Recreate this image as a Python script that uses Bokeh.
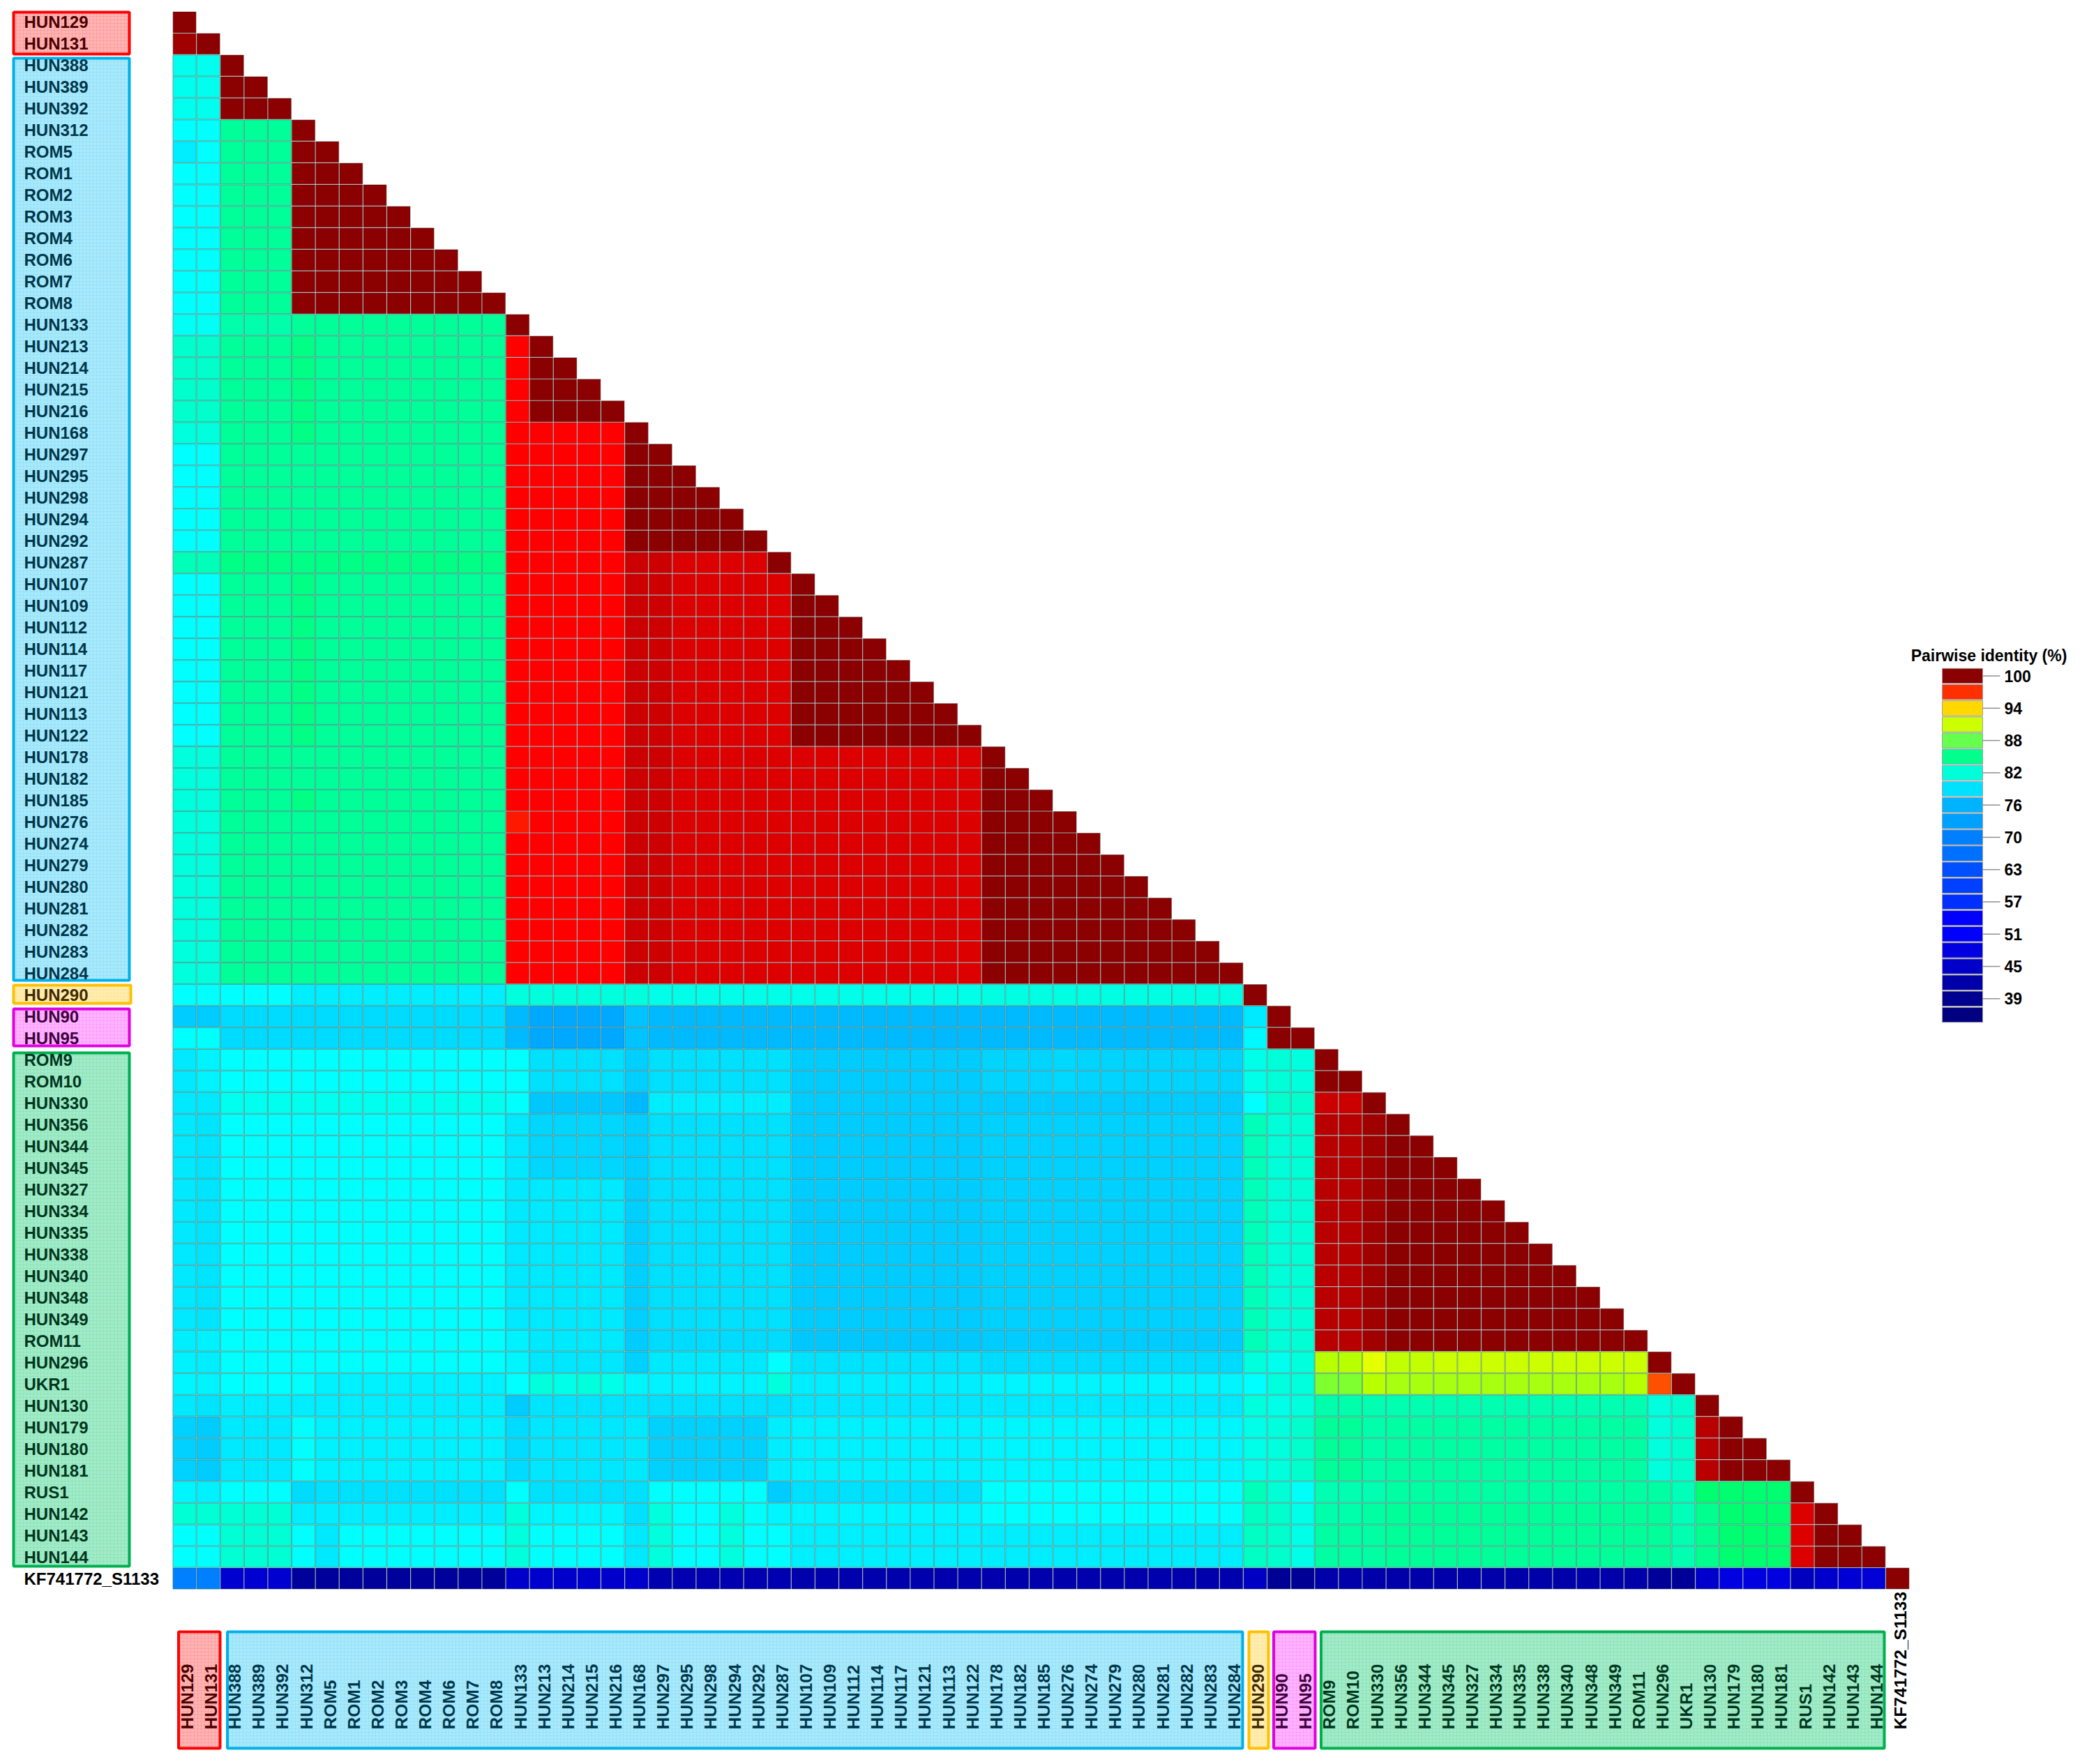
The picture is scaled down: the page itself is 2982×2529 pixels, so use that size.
from math import pi
import numpy as np
from bokeh.core.properties import value
from bokeh.embed import file_html
from bokeh.models import ColumnDataSource, LinearColorMapper, Range1d
from bokeh.plotting import figure
from bokeh.resources import INLINE

LABELS = ["HUN129","HUN131","HUN388","HUN389","HUN392","HUN312","ROM5","ROM1","ROM2","ROM3","ROM4","ROM6","ROM7","ROM8",
          "HUN133","HUN213","HUN214","HUN215","HUN216","HUN168","HUN297","HUN295","HUN298","HUN294","HUN292","HUN287",
          "HUN107","HUN109","HUN112","HUN114","HUN117","HUN121","HUN113","HUN122","HUN178","HUN182","HUN185","HUN276",
          "HUN274","HUN279","HUN280","HUN281","HUN282","HUN283","HUN284","HUN290","HUN90","HUN95","ROM9","ROM10",
          "HUN330","HUN356","HUN344","HUN345","HUN327","HUN334","HUN335","HUN338","HUN340","HUN348","HUN349","ROM11",
          "HUN296","UKR1","HUN130","HUN179","HUN180","HUN181","RUS1","HUN142","HUN143","HUN144","KF741772_S1133"]

# clade of each run of taxa: (name, first, last)
CLADES = [("red", 0, 1), ("blue", 2, 44), ("yellow", 45, 45), ("magenta", 46, 47), ("green", 48, 71)]

# pairwise identity (%), lower triangle, one list per row
r00 = [100]
r01 = [99.7, 100]
r02 = [80.8]*2 + [100]
r03 = [80.8]*2 + [100]*2
r04 = [80.8]*2 + [100]*3
r05 = [80, 80] + [85.5]*3 + [100]
r06 = [79, 80] + [85.5]*3 + [100]*2
r07 = [80, 80] + [85.5]*3 + [100]*3
r08 = [80, 80] + [85.5]*3 + [100]*4
r09 = [80, 80] + [85.5]*3 + [100]*5
r10 = [80, 80] + [85.5]*3 + [100]*6
r11 = [80, 80] + [85.5]*3 + [100]*7
r12 = [80, 80] + [85.5]*3 + [100]*8
r13 = [80, 80] + [85.5]*3 + [100]*9
r14 = [80.5]*2 + [84.5]*3 + [85.5]*9 + [100]
r15 = [82.5]*2 + [85.5]*3 + [86.5] + [85.5]*8 + [98] + [100]
r16 = [82.5]*2 + [85.5]*3 + [86.5] + [85.5]*8 + [98] + [100]*2
r17 = [82.5]*2 + [85.5]*3 + [86.5] + [85.5]*8 + [98] + [100]*3
r18 = [82.5]*2 + [85.5]*3 + [86.5] + [85.5]*8 + [98] + [100]*4
r19 = [81.5]*2 + [85.5]*3 + [86.5] + [85.5]*8 + [98]*5 + [100]
r20 = [80]*2 + [85.5]*12 + [98]*5 + [100]*2
r21 = [80]*2 + [85.5]*12 + [98]*5 + [100]*3
r22 = [80]*2 + [85.5]*12 + [98]*5 + [100]*4
r23 = [80]*2 + [85.5]*12 + [98]*5 + [100]*5
r24 = [80]*2 + [85.5]*12 + [98]*5 + [100]*6
r25 = [83.5]*2 + [86.5]*12 + [98]*5 + [99, 99] + [98.5]*4 + [100]
r26 = [80]*2 + [85.5]*3 + [86.5] + [85.5]*8 + [98]*5 + [99, 99] + [98.5]*5 + [100]
r27 = [80]*2 + [85.5]*3 + [86.5] + [85.5]*8 + [98]*5 + [99, 99] + [98.5]*5 + [100]*2
r28 = [80]*2 + [85.5]*3 + [86.5] + [85.5]*8 + [98]*5 + [99, 99] + [98.5]*5 + [100]*3
r29 = [80]*2 + [85.5]*3 + [86.5] + [85.5]*8 + [98]*5 + [99, 99] + [98.5]*5 + [100]*4
r30 = [80]*2 + [85.5]*3 + [86.5] + [85.5]*8 + [98]*5 + [99, 99] + [98.5]*5 + [100]*5
r31 = [80]*2 + [85.5]*3 + [86.5] + [85.5]*8 + [98]*5 + [99, 99] + [98.5]*5 + [100]*6
r32 = [80]*2 + [85.5]*3 + [86.5] + [85.5]*8 + [98]*5 + [99, 99] + [98.5]*5 + [100]*7
r33 = [80]*2 + [85.5]*3 + [86.5] + [85.5]*8 + [98]*5 + [99, 99] + [98.5]*5 + [100]*8
r34 = [81.5]*2 + [85.5]*12 + [98]*5 + [99, 99] + [98.5]*13 + [100]
r35 = [81.5]*2 + [85.5]*12 + [98]*5 + [99, 99] + [98.5]*13 + [100]*2
r36 = [81.5]*2 + [85.5]*3 + [86.5] + [85.5]*8 + [98]*5 + [99, 99] + [98.5]*13 + [100]*3
r37 = [81.5]*2 + [85.5]*12 + [97.5] + [98]*4 + [99, 99] + [98.5]*13 + [100]*4
r38 = [81.5]*2 + [85.5]*12 + [98]*5 + [99, 99] + [98.5]*13 + [100]*5
r39 = [81.5]*2 + [85.5]*12 + [98]*5 + [99, 99] + [98.5]*13 + [100]*6
r40 = [81.5]*2 + [85.5]*12 + [98]*5 + [99, 99] + [98.5]*13 + [100]*7
r41 = [81.5]*2 + [85.5]*12 + [98]*5 + [99, 99] + [98.5]*13 + [100]*8
r42 = [81.5]*2 + [85.5]*12 + [98]*5 + [99, 99] + [98.5]*13 + [100]*9
r43 = [81.5]*2 + [85.5]*12 + [98]*5 + [99, 99] + [98.5]*13 + [100]*10
r44 = [81.5]*2 + [85.5]*12 + [98]*5 + [99, 99] + [98.5]*13 + [100]*11
r45 = [80]*5 + [79]*9 + [81.5]*6 + [81]*14 + [81.3]*11 + [100]
r46 = [77, 77] + [78]*12 + [76] + [74.5]*4 + [76.5] + [76]*6 + [76]*8 + [76]*11 + [78.8] + [100]
r47 = [80, 80] + [78]*12 + [76] + [74.5]*4 + [76.5] + [76]*6 + [76]*8 + [76]*11 + [79.6] + [100]*2
r48 = [78.7, 79.3] + [80]*13 + [78.2]*4 + [77.2] + [78.2]*6 + [77]*8 + [77.5]*3 + [77.8] + [77.5]*7 + [81, 81.8, 81.5] + [100]
r49 = [78.7, 79.3] + [80]*13 + [78.2]*4 + [77.2] + [78.2]*6 + [77]*8 + [77.5]*3 + [77.8] + [77.5]*7 + [81, 81.8, 81.5] + [100]*2
r50 = [78.7, 78.7] + [80.8]*12 + [80] + [76.8]*4 + [76] + [79]*6 + [77]*8 + [77]*11 + [80, 82.5, 82.5] + [99, 99] + [100]
r51 = [78.7, 78.5] + [80]*12 + [78.7] + [77.6]*4 + [77.2] + [78.2]*6 + [77]*8 + [77.3]*11 + [83.5, 81.8, 82] + [99.4, 99.4, 99.7] + [100]
r52 = [78.7, 78.5] + [80]*12 + [78.7] + [77.6]*4 + [77.2] + [78.2]*6 + [77]*8 + [77.3]*11 + [83.5, 81.8, 82] + [99.4, 99.4, 99.7] + [100]*2
r53 = [78.7, 78.5] + [80]*12 + [78.7] + [77.6]*4 + [77.2] + [78.2]*6 + [77]*8 + [77.3]*11 + [83.5, 81.8, 82] + [99.4, 99.4, 99.7] + [100]*3
r54 = [78.7, 78.5] + [80]*12 + [78.7] + [78.8]*4 + [77.2] + [78.2]*6 + [77]*8 + [77.3]*11 + [83.5, 81.8, 82] + [99.4, 99.4, 99.7] + [100]*4
r55 = [78.7, 78.5] + [80]*12 + [78.7] + [78.8]*4 + [77.2] + [78.2]*6 + [77]*8 + [77.3]*11 + [83.5, 81.8, 82] + [99.4, 99.4, 99.7] + [100]*5
r56 = [78.7, 78.5] + [80]*12 + [78.7] + [78.8]*4 + [77.2] + [78.2]*6 + [77]*8 + [77.3]*11 + [83.5, 81.8, 82] + [99.4, 99.4, 99.7] + [100]*6
r57 = [78.7, 78.5] + [80]*12 + [78.7] + [78.8]*4 + [77.2] + [78.2]*6 + [77]*8 + [77.3]*11 + [83.5, 81.8, 82] + [99.4, 99.4, 99.7] + [100]*7
r58 = [78.7, 78.5] + [80]*12 + [78.7] + [78.8]*4 + [77.2] + [78.2]*6 + [77]*8 + [77.3]*11 + [83.5, 81.8, 82] + [99.4, 99.4, 99.7] + [100]*8
r59 = [78.7, 78.5] + [80]*12 + [78.7] + [78.8]*4 + [77.2] + [78.2]*6 + [77]*8 + [77.3]*11 + [83.5, 81.8, 82] + [99.4, 99.4, 99.7] + [100]*9
r60 = [78.7, 78.5] + [80]*12 + [78.7] + [78.8]*4 + [77.2] + [78.2]*6 + [77]*8 + [77.3]*11 + [83.5, 81.8, 82] + [99.4, 99.4, 99.7] + [100]*10
r61 = [79, 79.2] + [80]*12 + [79.2] + [78.8]*4 + [77] + [78]*6 + [76.8]*8 + [77]*11 + [83.5, 81.8, 82] + [99.4, 99.4, 99.7] + [100]*11
r62 = [79.2, 79] + [80]*12 + [79.4] + [78.6]*4 + [77.3] + [78.8]*5 + [80] + [78.4]*8 + [78]*11 + [81.5, 80.8, 81.5] + [91.5, 91.5, 93, 92, 92] + [92.5]*9 + [100]
r63 = [79.5, 79.3] + [80]*4 + [79.2]*8 + [80] + [81.5, 81, 81.5, 81] + [79.5] + [79.3]*5 + [81.5] + [79]*8 + [79.4]*11 + [80, 81.5, 81.7] + [90, 90, 91.5] + [91]*10 + [91.5, 96.5, 100]
r64 = [78.8, 78.5] + [79]*12 + [77] + [78.5]*5 + [78.3]*6 + [78.6]*8 + [78.8]*11 + [81.5, 81, 81.5] + [84.5]*2 + [84]*12 + [81.5, 82.5, 100]
r65 = [77.3, 77] + [78.8]*3 + [80] + [79.2]*8 + [78] + [78.6]*4 + [78.8] + [77.3]*5 + [79] + [79.2]*8 + [79.5]*11 + [81, 81.5, 82.5] + [85.5]*2 + [84.5] + [85]*11 + [81.5, 82.5, 99.4] + [100]
r66 = [77.3, 77] + [78.8]*3 + [80] + [79.2]*8 + [78] + [78.6]*4 + [78.8] + [77.3]*5 + [79] + [79.2]*8 + [79.5]*11 + [81, 81.5, 82.5] + [85.5]*2 + [84.5] + [85]*11 + [81.5, 82.5, 99.4] + [100]*2
r67 = [77.3, 77] + [78.8]*3 + [80] + [79.2]*8 + [78] + [78.6]*4 + [78.8] + [77.3]*5 + [79] + [79.2]*8 + [79.5]*11 + [81, 81.5, 82.5] + [85.5]*2 + [84.5] + [85]*11 + [81.5, 82.5, 99.4] + [100]*3
r68 = [79.5, 79.2] + [80]*3 + [78] + [78.2]*8 + [80] + [78.3]*5 + [80]*5 + [77] + [78.2]*8 + [80]*11 + [83.5, 82, 80.3] + [84]*3 + [85]*11 + [85, 83.5] + [87]*4 + [100]
r69 = [82]*5 + [79]*9 + [81.5] + [79.5]*4 + [78.3] + [81.5, 80, 80, 81.5, 80.3] + [79.5]*9 + [80]*11 + [83, 82.5, 81] + [84.5, 84.5, 85] + [85.5]*11 + [85.5, 83.5] + [86, 87, 87, 87] + [98.5] + [100]
r70 = [80, 80] + [82]*3 + [80, 78.8] + [80]*7 + [81.5] + [80]*4 + [78.8] + [81.5, 80, 80, 81.5, 80, 80] + [79.1]*8 + [79]*11 + [83, 82.5, 81] + [85]*3 + [85.5]*11 + [85.5, 84] + [86, 87, 87, 87] + [98.5] + [100]*2
r71 = [80, 80] + [82]*3 + [80, 78.8] + [80]*7 + [81.5] + [80]*4 + [78.8] + [81.5, 80, 80, 81.5, 80, 80] + [79.1]*8 + [79]*11 + [83, 82.5, 81] + [85]*3 + [85.5]*11 + [85.5, 84] + [86, 87, 87, 87] + [98.5] + [100]*3
r72 = [70, 70] + [46.5]*3 + [42]*9 + [46]*6 + [44]*6 + [43.7]*8 + [43.7]*11 + [45.5, 41, 41] + [43.5]*14 + [41.5, 41.5] + [46, 48, 48, 48, 45, 46, 47, 47, 100]

ROWS = [r00,r01,r02,r03,r04,r05,r06,r07,r08,r09,r10,r11,r12,r13,r14,r15,r16,r17,r18,r19,r20,r21,r22,r23,r24,
        r25,r26,r27,r28,r29,r30,r31,r32,r33,r34,r35,r36,r37,r38,r39,r40,r41,r42,r43,r44,r45,r46,r47,r48,r49,
        r50,r51,r52,r53,r54,r55,r56,r57,r58,r59,r60,r61,r62,r63,r64,r65,r66,r67,r68,r69,r70,r71,r72]

# colour key: identity -> colour
KEY_VALUES = [36, 40, 42, 44, 46, 48, 51, 54, 57, 60.5, 63.5, 67, 70, 73, 74.5, 76, 77, 78, 79, 80, 80.8, 81.5, 82.5,
              83.5, 84.5, 85.5, 86.5, 87, 88, 90, 91, 91.5, 92.5, 93, 94, 96.5, 97, 98, 98.5, 99, 99.4, 99.7, 100]
KEY_COLOURS = ["#000080","#000090","#00009a","#0000b0","#0000cc","#0000e0","#0000f0","#0000ff","#0030ff","#0040ff",
               "#0050ff","#0070ff","#0080ff","#00a0ff","#00a8ff","#00baff","#00ccff","#00dcff","#00eeff","#00ffff",
               "#00ffee","#00ffdd","#00ffcc","#00ffb8","#00ffaa","#00ff99","#00ff85","#00ff70","#66ff4d","#80ff30","#a8ff10",
               "#b8ff00","#ccff00","#e6ff00","#ffd800","#ff5000","#ff3000","#ff0000","#dd0000","#cc0000","#b80000",
               "#a00000","#8b0000"]

LEGEND_TITLE = "Pairwise identity (%)"
LEGEND_COLOURS = ["#8b0000","#ff3000","#ffd800","#ccff00","#66ff4d","#00ff8c","#00ffd9","#00e0ff","#00b3ff","#00a0ff",
                  "#0080ff","#0070ff","#0050ff","#0040ff","#0030ff","#0000ff","#0000ff","#0000e0","#0000c8","#0000a8",
                  "#000090","#000080"]
LEGEND_TICKS = ["100","94","88","82","76","70","63","57","51","45","39"]

BOX_STYLE = {"red": ("#ff0000", "#ffb4b4", "#4a0000"),
             "blue": ("#00b0e8", "#a9e9fb", "#00364a"),
             "yellow": ("#ffc000", "#ffecb0", "#3e2a00"),
             "magenta": ("#e000e0", "#ffb4ff", "#3e003e"),
             "green": ("#00b050", "#a2ebc8", "#00361e")}

for i, row in enumerate(ROWS):
    assert len(row) == i + 1, (i, len(row))

X0, X1, Y0, Y1 = 247.0, 2737.0, 16.0, 2278.0
N = len(LABELS)
CW, RH = (X1 - X0) / N, (Y1 - Y0) / N
X = lambda px: (px - X0) / CW
Y = lambda py: (py - Y0) / RH

W, H = 2966, 2513
p = figure(width=W, height=H, output_backend="svg", toolbar_location=None,
           x_range=Range1d(X(0), X(W)), y_range=Range1d(Y(H), Y(0)),
           x_axis_location=None, y_axis_location=None, min_border=0, outline_line_color=None)
p.grid.visible = False
p.background_fill_color = "white"
p.border_fill_color = "white"

# colour mapper
levels = np.round(np.arange(36, 100.01, 0.1), 1)
rgb = np.array([[int(c[k:k+2], 16) for k in (1, 3, 5)] for c in KEY_COLOURS], dtype=float)
palette = ["#%02x%02x%02x" % tuple(int(round(np.interp(v, KEY_VALUES, rgb[:, k]))) for k in range(3)) for v in levels]
mapper = LinearColorMapper(palette=palette, low=35.95, high=100.05)

xs, ys, vals, gaps = [], [], [], []
for i, row in enumerate(ROWS):
    for j, v in enumerate(row):
        xs.append(j + 0.5); ys.append(i + 0.5); vals.append(v)
        gaps.append("#d6c4c4" if v >= 97 else "#80c0b8" if v >= 60 else "#c0c0d8")
cells = ColumnDataSource(dict(x=xs, y=ys, v=vals, gap=gaps))
p.rect("x", "y", width=1, height=1, source=cells, fill_color="gap", line_color=None)
p.rect("x", "y", width=1 - 1.2 / CW, height=1 - 1.2 / RH, source=cells,
       fill_color={"field": "v", "transform": mapper}, line_color="#003030", line_alpha=0.22, line_width=1)

# clade boxes, left and bottom
left_boxes = {"red": (15, 79), "blue": (81, 1407), "yellow": (1410, 1440), "magenta": (1444, 1501), "green": (1507, 2247)}
bottom_boxes = {"red": (253.5, 317), "blue": (323.5, 1783), "yellow": (1788, 1820), "magenta": (1823.5, 1887), "green": (1891.5, 2703)}
HATCH = dict(hatch_pattern="cross", hatch_scale=5, hatch_weight=1, hatch_alpha=0.10)
for name, first, last in CLADES:
    line, fill, _ = BOX_STYLE[name]
    t, b = left_boxes[name]
    right = 189 if name == "yellow" else 187
    p.quad(left=X(19), right=X(right - 2), top=Y(t + 2), bottom=Y(b - 2), fill_color=fill, line_color=line, line_width=4,
           hatch_color=line, **HATCH)
    l, r = bottom_boxes[name]
    p.quad(left=X(l + 2), right=X(r - 2), top=Y(2339), bottom=Y(2506), fill_color=fill, line_color=line, line_width=4,
           hatch_color=line, **HATCH)

text_cols = ["#000000"] * N
for name, first, last in CLADES:
    for k in range(first, last + 1):
        text_cols[k] = BOX_STYLE[name][2]
FONT = value("Liberation Sans")
src = ColumnDataSource(dict(lab=LABELS, lx=[X(34)] * N, ly=[i + 0.5 for i in range(N)],
                            bx=[i + 0.5 + 4 / CW for i in range(N)], by=[Y(2479)] * N, col=text_cols))
p.text("lx", "ly", text="lab", source=src, text_color="col", text_font=FONT, text_font_style="bold",
       text_font_size="24px", text_align="left", text_baseline="middle")
p.text("bx", "by", text="lab", source=src, text_color="col", text_font=FONT, text_font_style="bold",
       text_font_size="24.5px", text_align="left", text_baseline="middle", angle=pi / 2)

# legend
LT, LB = 957.0, 1466.0
sh = (LB - LT) / len(LEGEND_COLOURS)
p.quad(left=X(2784), right=X(2842),
       top=[Y(LT + i * sh + 0.8) for i in range(22)], bottom=[Y(LT + (i + 1) * sh - 0.8) for i in range(22)],
       fill_color=LEGEND_COLOURS, line_color="#a0a0a0", line_width=1)
tick_y = [Y(LT + (2 * i + 0.5) * sh) for i in range(len(LEGEND_TICKS))]
p.segment(x0=X(2842), x1=X(2867), y0=tick_y, y1=tick_y, line_color="#909090", line_width=1.5)
p.text(x=[X(2873)] * len(tick_y), y=tick_y, text=LEGEND_TICKS, text_color="#000000", text_font=FONT,
       text_font_style="bold", text_font_size="23px", text_align="left", text_baseline="middle")
p.text(x=[X(2851)], y=[Y(939)], text=[LEGEND_TITLE], text_color="#000000", text_font=FONT,
       text_font_style="bold", text_font_size="23px", text_align="center", text_baseline="middle")

open("out.html", "w").write(file_html(p, INLINE))
